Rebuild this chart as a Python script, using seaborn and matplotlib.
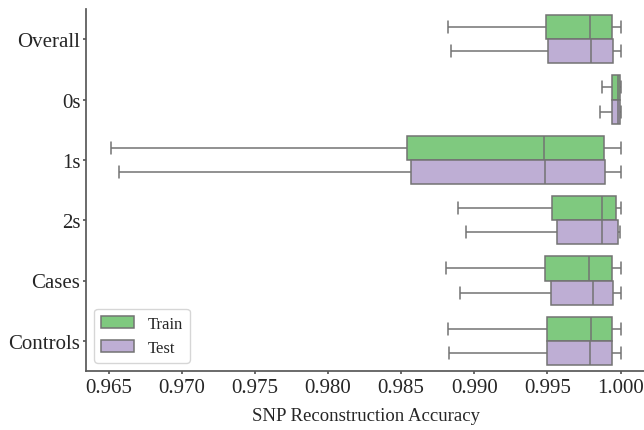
import pandas as pd
import matplotlib.pyplot as plt
import seaborn as sns

# five-number summaries: whisker low, q1, median, q3, whisker high
categories = ["Overall", "0s", "1s", "2s", "Cases", "Controls"]
splits = ["Train", "Test"]

train_stats = [
    [0.98822, 0.99493, 0.99793, 0.99943, 1.00000],
    [0.99875, 0.99945, 0.99985, 0.99996, 1.00000],
    [0.96520, 0.98542, 0.99477, 0.99889, 1.00000],
    [0.98890, 0.99534, 0.99875, 0.99971, 1.00000],
    [0.98806, 0.99481, 0.99784, 0.99939, 1.00000],
    [0.98822, 0.99495, 0.99797, 0.99943, 1.00000],
]
test_stats = [
    [0.98840, 0.99504, 0.99797, 0.99948, 1.00000],
    [0.99862, 0.99941, 0.99984, 0.99993, 1.00000],
    [0.96570, 0.98565, 0.99486, 0.99896, 1.00000],
    [0.98943, 0.99565, 0.99875, 0.99982, 0.99998],
    [0.98902, 0.99527, 0.99809, 0.99950, 1.00000],
    [0.98829, 0.99497, 0.99793, 0.99945, 1.00000],
]

rows = []
for cat, tr, te in zip(categories, train_stats, test_stats):
    for v in tr:
        rows.append({"group": cat, "split": "Train", "acc": v})
    for v in te:
        rows.append({"group": cat, "split": "Test", "acc": v})
df = pd.DataFrame(rows)

sns.set_theme(style="ticks")
plt.rcParams["font.family"] = ["Liberation Serif", "DejaVu Serif"]
plt.rcParams["axes.edgecolor"] = ".35"

fig = plt.figure(figsize=(6.44, 4.31), dpi=100)
ax = fig.add_axes([86 / 644, 1 - 372 / 431, 560 / 644, 362 / 431])

sns.boxplot(data=df, x="acc", y="group", hue="split", order=categories,
            hue_order=splits, palette="Accent", saturation=1, whis=(0, 100),
            showfliers=False, width=0.8, linewidth=1.1, linecolor=".45", ax=ax)

sns.despine(ax=ax)
ax.set_ylabel("")
ax.set_xlabel("SNP Reconstruction Accuracy", fontsize=13.5, labelpad=7)
ax.tick_params(axis="x", labelsize=15, length=2.5, pad=2.5, color=".35")
ax.tick_params(axis="y", labelsize=15, length=2, pad=2, color=".35")
ax.set_xticks([0.965, 0.970, 0.975, 0.980, 0.985, 0.990, 0.995, 1.000])
ax.set_xticklabels([f"{t:.3f}" for t in ax.get_xticks()])
ax.legend(loc="lower left", fontsize=12, frameon=True)

fig.savefig("out.png", dpi=100)
